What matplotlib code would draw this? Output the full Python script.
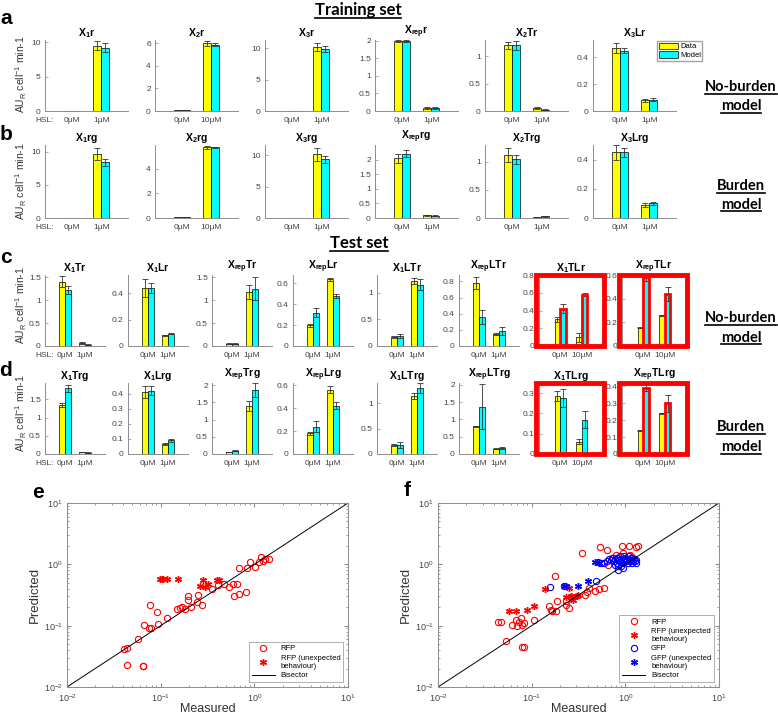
import numpy as np
import matplotlib.pyplot as plt
from matplotlib.patches import Rectangle, Patch
from matplotlib.lines import Line2D
from matplotlib.transforms import offset_copy

plt.rcParams['font.family'] = ['Liberation Sans', 'DejaVu Sans']
plt.rcParams['mathtext.fontset'] = 'custom'
plt.rcParams['mathtext.rm'] = 'Liberation Sans'
plt.rcParams['mathtext.it'] = 'Liberation Sans:italic'
plt.rcParams['mathtext.bf'] = 'Liberation Sans:bold'

# ---- training set, no-burden model (row a)
titles_a = ['X_1r', 'X_2r', 'X_3r', 'X_{rep}r', 'X_2Tr', 'X_3Lr']
hsl_a = ['1μM', '10μM', '1μM', '1μM', '1μM', '1μM']
data_a = [[0.05, 9.5], [0.08, 6.0], [0.05, 10.2], [1.99, 0.08], [1.2, 0.05], [0.47, 0.08]]
derr_a = [[0.01, 0.6], [0.01, 0.2], [0.01, 0.7], [0.02, 0.02], [0.07, 0.02], [0.04, 0.01]]
model_a = [[0.05, 9.2], [0.08, 5.9], [0.05, 9.9], [1.99, 0.08], [1.2, 0.02], [0.45, 0.085]]
merr_a = [[0.01, 0.6], [0.01, 0.15], [0.01, 0.5], [0.02, 0.02], [0.08, 0.01], [0.02, 0.01]]
ytop_a = [10.3, 6.3, 11.3, 2.02, 1.3, 0.53]
yt_a = [[0, 5, 10], [0, 2, 4, 6], [0, 5, 10], [0, 0.5, 1, 1.5, 2], [0, 0.5, 1], [0, 0.2, 0.4]]

# ---- training set, burden model (row b)
titles_b = ['X_1rg', 'X_2rg', 'X_3rg', 'X_{rep}rg', 'X_2Trg', 'X_3Lrg']
hsl_b = ['1μM', '10μM', '1μM', '1μM', '1μM', '1μM']
data_b = [[0.05, 9.6], [0.08, 5.7], [0.05, 10.1], [2.05, 0.09], [1.12, 0.01], [0.45, 0.09]]
derr_b = [[0.01, 0.9], [0.01, 0.15], [0.01, 1.0], [0.15, 0.02], [0.12, 0.005], [0.05, 0.015]]
model_b = [[0.05, 8.4], [0.08, 5.7], [0.05, 9.3], [2.2, 0.08], [1.05, 0.03], [0.45, 0.10]]
merr_b = [[0.01, 0.5], [0.01, 0.06], [0.01, 0.5], [0.12, 0.01], [0.08, 0.01], [0.03, 0.01]]
ytop_b = [11.0, 5.9, 11.6, 2.5, 1.3, 0.5]
yt_b = [[0, 5, 10], [0, 2, 4], [0, 5, 10], [0, 0.5, 1, 1.5, 2], [0, 0.5, 1], [0, 0.2, 0.4]]

# ---- test set, no-burden model (row c)
titles_c = ['X_1Tr', 'X_1Lr', 'X_{rep}Tr', 'X_{rep}Lr', 'X_1LTr', 'X_{rep}LTr', 'X_1TLr', 'X_{rep}TLr']
hsl_c = ['1μM', '1μM', '1μM', '1μM', '1μM', '1μM', '10μM', '10μM']
data_c = [[1.4, 0.06], [0.44, 0.08], [0.05, 1.18], [0.2, 0.64], [0.17, 1.22], [0.78, 0.15], [0.30, 0.10], [0.155, 0.26]]
derr_c = [[0.12, 0.02], [0.07, 0.005], [0.01, 0.15], [0.015, 0.015], [0.02, 0.05], [0.07, 0.01], [0.03, 0.05], [0.005, 0.005]]
model_c = [[1.22, 0.03], [0.44, 0.095], [0.05, 1.25], [0.32, 0.48], [0.19, 1.15], [0.36, 0.19], [0.42, 0.58], [0.58, 0.44]]
merr_c = [[0.08, 0.01], [0.04, 0.005], [0.01, 0.25], [0.045, 0.02], [0.04, 0.1], [0.09, 0.05], [0.05, 0.02], [0.03, 0.06]]
ytop_c = [1.55, 0.54, 1.55, 0.68, 1.33, 0.88, 0.8, 0.6]
yt_c = [[0, 0.5, 1, 1.5], [0, 0.2, 0.4], [0, 0.5, 1, 1.5], [0, 0.2, 0.4, 0.6], [0, 0.5, 1],
        [0, 0.2, 0.4, 0.6, 0.8], [0, 0.2, 0.4, 0.6, 0.8], [0, 0.2, 0.4, 0.6]]
flag_c = [[], [], [], [], [], [], [0, 1], [0, 1]]

# ---- test set, burden model (row d)
titles_d = ['X_1Trg', 'X_1Lrg', 'X_{rep}Trg', 'X_{rep}Lrg', 'X_1LTrg', 'X_{rep}LTrg', 'X_1TLrg', 'X_{rep}TLrg']
hsl_d = ['1μM', '1μM', '1μM', '1μM', '1μM', '1μM', '10μM', '10μM']
data_d = [[1.35, 0.06], [0.41, 0.065], [0.05, 1.4], [0.18, 0.56], [0.17, 1.15], [0.8, 0.15], [0.285, 0.06], [0.14, 0.24]]
derr_d = [[0.05, 0.005], [0.04, 0.005], [0.005, 0.15], [0.015, 0.03], [0.02, 0.06], [0.02, 0.01], [0.025, 0.012], [0.003, 0.003]]
model_d = [[1.8, 0.04], [0.42, 0.09], [0.1, 1.85], [0.24, 0.42], [0.18, 1.3], [1.37, 0.17], [0.275, 0.17], [0.39, 0.30]]
merr_d = [[0.1, 0.005], [0.03, 0.01], [0.01, 0.2], [0.05, 0.03], [0.06, 0.1], [0.65, 0.04], [0.045, 0.04], [0.02, 0.05]]
ytop_d = [1.95, 0.47, 2.06, 0.62, 1.4, 2.05, 0.35, 0.42]
yt_d = [[0, 0.5, 1, 1.5], [0, 0.1, 0.2, 0.3, 0.4], [0, 0.5, 1, 1.5, 2], [0, 0.2, 0.4, 0.6], [0, 0.5, 1],
        [0, 0.5, 1, 1.5, 2], [0, 0.1, 0.2, 0.3], [0, 0.1, 0.2, 0.3, 0.4]]
flag_d = [[], [], [], [], [], [], [], [0, 1]]

# ---- measured vs predicted (e: no-burden, f: burden)
e_rfp_meas = [0.041, 0.044, 0.044, 0.0575, 0.064, 0.065, 0.067, 0.076, 0.0755, 0.078, 0.091, 0.0945, 0.116, 0.151,
              0.160, 0.171, 0.183, 0.194, 0.194, 0.213, 0.243, 0.252, 0.273, 0.353, 0.405, 0.474, 0.53, 0.593, 0.61,
              0.65, 0.69, 0.81, 0.68, 0.89, 0.83, 1.01, 1.12, 1.19, 1.24, 1.29, 1.44]
e_rfp_pred = [0.042, 0.043, 0.023, 0.061, 0.022, 0.022, 0.1025, 0.215, 0.093, 0.093, 0.167, 0.106, 0.133, 0.189,
              0.194, 0.198, 0.189, 0.301, 0.26, 0.201, 0.243, 0.312, 0.22, 0.40, 0.465, 0.476, 0.43, 0.476, 0.31,
              0.476, 0.33, 0.35, 0.87, 1.08, 0.87, 0.90, 1.08, 1.32, 1.15, 1.22, 1.22]
e_unx_meas = [0.098, 0.103, 0.107, 0.116, 0.154, 0.263, 0.28, 0.30, 0.32, 0.40, 0.42]
e_unx_pred = [0.583, 0.583, 0.583, 0.583, 0.583, 0.437, 0.556, 0.43, 0.48, 0.56, 0.556]

f_rfp_meas = [0.0434, 0.0473, 0.0537, 0.061, 0.0688, 0.07, 0.073, 0.076, 0.078, 0.079, 0.082, 0.082, 0.107, 0.152,
              0.159, 0.166, 0.18, 0.179, 0.187, 0.233, 0.235, 0.25, 0.266, 0.346, 0.37, 0.385, 0.41, 0.474, 0.52,
              0.54, 0.59, 0.63, 0.65, 0.74, 0.79, 0.92, 0.94, 1.09, 1.11, 1.18, 1.31, 1.37]
f_rfp_pred = [0.113, 0.115, 0.0556, 0.104, 0.125, 0.0976, 0.115, 0.133, 0.102, 0.0448, 0.0448, 0.11, 0.122, 0.207,
              0.18, 0.171, 0.175, 0.637, 0.25, 0.25, 0.22, 0.195, 0.29, 1.53, 0.32, 0.357, 0.41, 0.37, 0.40,
              1.92, 0.41, 1.73, 0.99, 1.27, 1.44, 2.0, 1.53, 1.97, 1.44, 1.34, 1.89, 2.0]
f_rfp_unx_meas = [0.0578, 0.068, 0.0894, 0.107, 0.138, 0.25, 0.233, 0.26, 0.28, 0.305, 0.31, 0.277]
f_rfp_unx_pred = [0.171, 0.171, 0.178, 0.213, 0.40, 0.41, 0.294, 0.30, 0.294, 0.30, 0.32, 0.265]
f_gfp_meas = [0.156, 0.223, 0.49, 0.51, 0.552, 0.59, 0.64, 0.667, 0.695, 0.724, 0.755, 0.767, 0.785, 0.805, 0.818,
              0.839, 0.839, 0.853, 0.874, 0.889, 0.889, 0.904, 0.927, 0.942, 0.966, 0.966, 0.981, 1.005, 1.021,
              1.047, 1.064, 1.091, 1.10, 1.119, 1.137, 1.156, 1.185, 1.214, 1.234, 1.265, 1.29, 1.297]
f_gfp_pred = [0.427, 0.44, 0.53, 1.08, 1.05, 1.05, 1.12, 1.22, 1.19, 1.27, 1.12, 1.22, 0.99, 1.27, 1.05,
              0.93, 0.82, 1.19, 1.35, 1.12, 0.93, 1.22, 1.05, 0.87, 1.19, 1.35, 1.27, 1.12, 1.22,
              1.16, 1.05, 1.22, 1.35, 1.12, 1.19, 1.27, 1.05, 1.12, 1.22, 1.12, 1.05, 1.19]
f_gfp_unx_meas = [0.22, 0.233, 0.31, 0.40, 0.469, 0.52]
f_gfp_unx_pred = [0.45, 0.44, 0.45, 0.54, 1.09, 1.05]

YEL, CYA = '#ffff00', '#00ffff'
GRAY = '#8c8c8c'
W, H = 778, 715
fig = plt.figure(figsize=(W / 100, H / 100), dpi=100)


def bar_panel(left, top, zero, width, title, hsl, d, de, m, me, ytop, yt,
              xlim=(0, 3), bw=0.3, hsl_lab=False, boxed=False, flag=()):
    ax = fig.add_axes([left / W, 1 - zero / H, width / W, (zero - top) / H])
    x = np.array([1, 2])
    ax.bar(x - bw / 2, d, bw, color=YEL, edgecolor='k', lw=0.5)
    ax.bar(x + bw / 2, m, bw, color=CYA, edgecolor='k', lw=0.5)
    ax.errorbar(x - bw / 2, d, yerr=de, fmt='none', ecolor='#333333', elinewidth=0.6, capsize=2, capthick=0.6)
    ax.errorbar(x + bw / 2, m, yerr=me, fmt='none', ecolor='#333333', elinewidth=0.6, capsize=2, capthick=0.6)
    for i in flag:
        ax.add_patch(Rectangle((x[i], 0), bw, m[i], fill=False, ec='red', lw=2, zorder=4))
    ax.set_xlim(*xlim)
    ax.set_ylim(0, ytop)
    ax.set_yticks(yt)
    ax.set_yticklabels(['%g' % v for v in yt])
    ax.set_xticks(x)
    ax.set_xticklabels(['0μM', hsl])
    for s in ['top', 'right']:
        ax.spines[s].set_visible(False)
    for s in ['left', 'bottom']:
        ax.spines[s].set_color(GRAY)
        ax.spines[s].set_linewidth(0.7)
    ax.tick_params(axis='y', direction='in', length=2, width=0.5, color=GRAY, labelsize=6, labelcolor='#444444', pad=3)
    ax.tick_params(axis='x', length=0, labelsize=6, labelcolor='#444444', pad=4)
    ax.set_title(r'$\mathbf{' + title + '}$', fontsize=7.5, pad=3)
    if hsl_lab:
        # same line as the x tick labels
        tr = offset_copy(ax.transAxes, fig=fig, y=-4, units='points')
        ax.text(-0.01, 0, 'HSL:', transform=tr, ha='center', va='top', fontsize=6, color='#444444')
    if boxed:
        ax.add_patch(Rectangle((-0.05, 0), 1.07, 1, transform=ax.transAxes, fill=False,
                               ec='red', lw=3.5, clip_on=False, zorder=5))
    return ax


left_ab = [45, 155, 265, 375, 485, 593]
left_cd = [45, 128, 212, 293, 377, 459, 539, 622]
width_cd = [60, 60, 60, 60, 60, 60, 64, 64]

for i in range(6):
    bar_panel(left_ab[i], 40, 111, 83, titles_a[i], hsl_a[i], data_a[i], derr_a[i], model_a[i], merr_a[i],
              ytop_a[i], yt_a[i], xlim=(0.1, 2.9), bw=0.27, hsl_lab=(i == 0))
    bar_panel(left_ab[i], 145, 218, 83, titles_b[i], hsl_b[i], data_b[i], derr_b[i], model_b[i], merr_b[i],
              ytop_b[i], yt_b[i], xlim=(0.1, 2.9), bw=0.27, hsl_lab=(i == 0))
for i in range(8):
    red = i >= 6
    bar_panel(left_cd[i], 275, 346, width_cd[i], titles_c[i], hsl_c[i], data_c[i], derr_c[i], model_c[i],
              merr_c[i], ytop_c[i], yt_c[i], bw=0.3 if not red else 0.27, hsl_lab=(i == 0),
              boxed=red, flag=flag_c[i])
    bar_panel(left_cd[i], 383, 454, width_cd[i], titles_d[i], hsl_d[i], data_d[i], derr_d[i], model_d[i],
              merr_d[i], ytop_d[i], yt_d[i], bw=0.3 if not red else 0.27, hsl_lab=(i == 0),
              boxed=red, flag=flag_d[i])

fig.legend(handles=[Patch(fc=YEL, ec='k', lw=0.5, label='Data'), Patch(fc=CYA, ec='k', lw=0.5, label='Model')],
           loc='upper left', bbox_to_anchor=(657 / W, 1 - 41 / H), fontsize=5.5, frameon=True, fancybox=False,
           edgecolor=GRAY, handlelength=2.6, handleheight=0.9, borderpad=0.2, labelspacing=0.15,
           handletextpad=0.2, borderaxespad=0)

# y labels of the bar rows (bottom end just above the x-axis line)
for yb in [113, 220, 344, 452]:
    fig.text(21 / W, 1 - yb / H, r'AU$_\mathrm{R}$ cell$^{-1}$ min-1', rotation=90, ha='center', va='bottom',
             fontsize=7.5, color='#333333')

# panel letters
for lab, x, y in [('a', 6, 19), ('b', 6, 135), ('c', 6, 258), ('d', 6, 370), ('e', 38, 492), ('f', 407, 490)]:
    fig.text(x / W, 1 - y / H, lab, fontsize=15, fontweight='bold', ha='center', va='center')

# underlined headings
heads = [('Training set', 358, 10, 12), ('Test set', 359, 243, 12),
         ('No-burden', 741, 87, 10.5), ('model', 741, 106, 10.5),
         ('Burden', 741, 186, 10.5), ('model', 741, 205, 10.5),
         ('No-burden', 741, 318, 10.5), ('model', 741, 338, 10.5),
         ('Burden', 741, 427, 10.5), ('model', 741, 447, 10.5)]
htexts = []
for txt, x, y, fs in heads:
    htexts.append(fig.text(x / W, 1 - y / H, txt, fontsize=fs, fontweight='bold', ha='center', va='center',
                           family=['Lato', 'DejaVu Sans']))
fig.canvas.draw()
for t in htexts:
    bb = t.get_window_extent()
    yy = (bb.y0 + 0.5) / H
    fig.add_artist(Line2D([bb.x0 / W, bb.x1 / W], [yy, yy], color='k', lw=1.2))


def scatter_panel(left, series):
    ax = fig.add_axes([left / W, 1 - 687 / H, 281 / W, 184 / H])
    for xs, ys, col, mk, lab in series:
        if mk == 'o':
            ax.plot(xs, ys, 'o', mfc='none', mec=col, ms=4.5, mew=0.8, ls='none', label=lab)
        else:
            ax.plot(xs, ys, marker=(6, 2, 0), color=col, ms=5, mew=1.0, ls='none', label=lab)
    ax.plot([1e-2, 1e1], [1e-2, 1e1], color='k', lw=0.7, label='Bisector')
    ax.set_xscale('log')
    ax.set_yscale('log')
    ax.set_xlim(1e-2, 1e1)
    ax.set_ylim(1e-2, 1e1)
    for s in ax.spines.values():
        s.set_color(GRAY)
        s.set_linewidth(0.7)
    ax.tick_params(which='both', direction='in', top=True, right=True, color=GRAY, labelsize=6.5,
                   labelcolor='#444444')
    ax.tick_params(which='major', length=3)
    ax.tick_params(axis='x', which='major', pad=4)
    ax.tick_params(axis='y', which='major', pad=3)
    ax.tick_params(which='minor', length=1.5)
    ax.set_xlabel('Measured', fontsize=9, color='#333333', labelpad=-1)
    ax.set_ylabel('Predicted', fontsize=9.5, color='#333333', labelpad=2)
    leg = ax.legend(loc='lower right', fontsize=5.5, frameon=True, fancybox=False, edgecolor=GRAY,
                    borderaxespad=0.6, handlelength=3, labelspacing=0.3)
    leg.get_frame().set_linewidth(0.6)
    return ax


scatter_panel(67, [(e_rfp_meas, e_rfp_pred, 'red', 'o', 'RFP'),
                   (e_unx_meas, e_unx_pred, 'red', '*', 'RFP (unexpected\nbehaviour)')])
scatter_panel(438, [(f_rfp_meas, f_rfp_pred, 'red', 'o', 'RFP'),
                    (f_rfp_unx_meas, f_rfp_unx_pred, 'red', '*', 'RFP (unexpected\nbehaviour)'),
                    (f_gfp_meas, f_gfp_pred, 'blue', 'o', 'GFP'),
                    (f_gfp_unx_meas, f_gfp_unx_pred, 'blue', '*', 'GFP (unexpected\nbehaviour)')])

fig.savefig('out.png', dpi=100)
